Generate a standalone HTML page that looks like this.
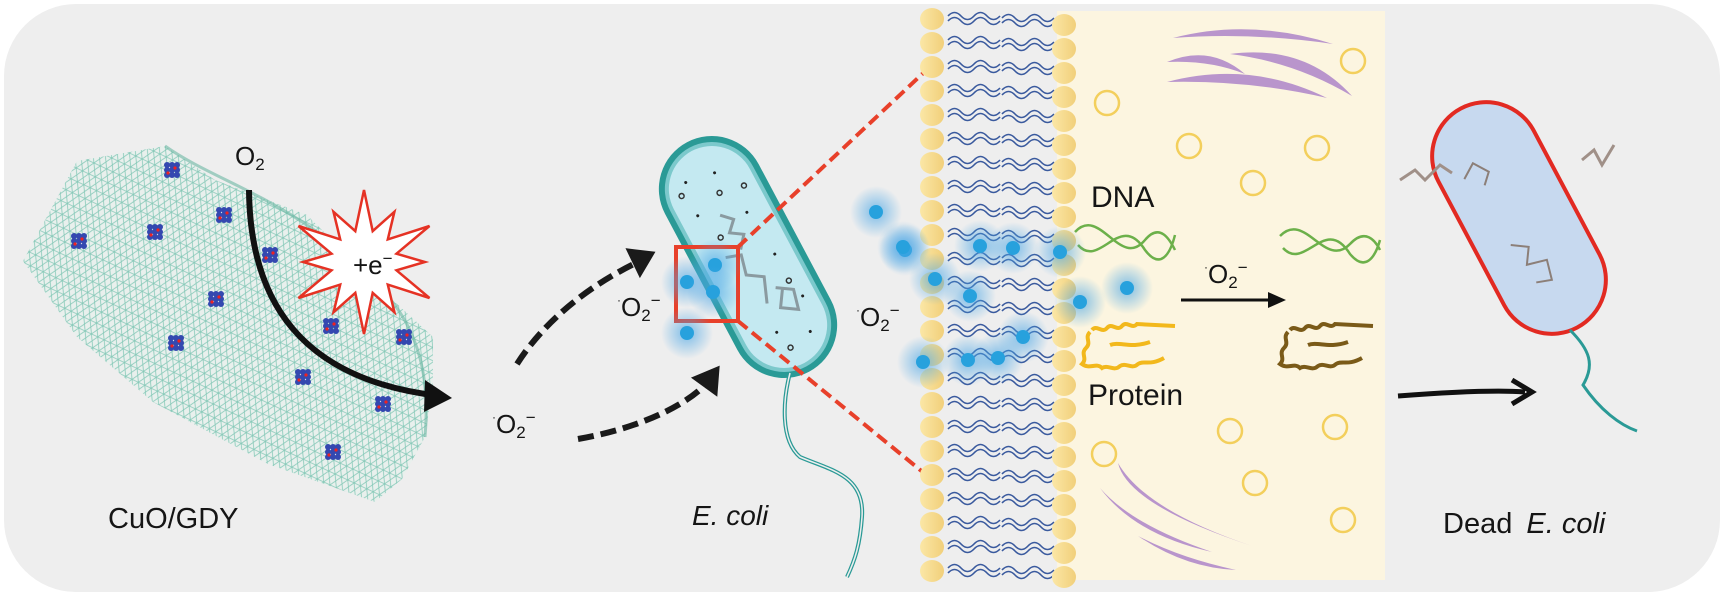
<!DOCTYPE html>
<html><head><meta charset="utf-8"><style>
html,body{margin:0;padding:0;background:#fff;width:1726px;height:598px;overflow:hidden}
svg{display:block}
text{font-family:"Liberation Sans",Arial,sans-serif;fill:#151515}
</style></head><body>
<svg id="s" width="1726" height="598" viewBox="0 0 1726 598" xmlns="http://www.w3.org/2000/svg">
<defs>
<pattern id="mesh" width="14" height="12" patternUnits="userSpaceOnUse" patternTransform="rotate(25)">
<path d="M0 0H14M0 12H14M0 0L7 12L14 0M0 12L7 0L14 12" stroke="#86c9b8" stroke-width="0.8" fill="none"/>
</pattern>
<radialGradient id="glow"><stop offset="0" stop-color="#4aa6e6" stop-opacity="0.7"/><stop offset="1" stop-color="#4aa6e6" stop-opacity="0"/></radialGradient>
<linearGradient id="bead" x1="0" x2="1"><stop offset="0" stop-color="#fbe7a6"/><stop offset="1" stop-color="#f1cf7a"/></linearGradient>
<clipPath id="sheetclip"><path d="M23 261 L77 161 L165 146 L215 180 L307 215 L383 291 L433 337 L433 383 L425 437 L402 479 L375 502 L268 464 L153 402 L77 337 Z"/></clipPath>
</defs>
<rect x="4" y="4" width="1716" height="588" rx="72" fill="#eeeeee"/>
<g clip-path="url(#sheetclip)"><rect x="0" y="100" width="460" height="420" fill="#e9f0ed"/><rect x="0" y="100" width="460" height="420" fill="url(#mesh)"/></g>
<path d="M165 146 C220 185 300 200 383 291 C420 330 430 380 425 437" stroke="#6cb7a3" stroke-width="3" fill="none" opacity="0.6"/>
<g id="clusters"></g>
<polygon id="star" fill="#fff" stroke="#e53224" stroke-width="2.5"/>
<text x="235" y="165" font-size="26">O<tspan font-size="17" dy="5">2</tspan></text>
<path d="M249 190 C250 300 300 380 440 396" stroke="#111" stroke-width="6" fill="none"/>
<path d="M425 380 L452 398 L424 412 Z" fill="#111"/>
<text x="353" y="274" font-size="26">+e<tspan font-size="17" dy="-10">−</tspan></text>
<text x="492" y="433" font-size="26"><tspan font-size="12" dy="-12">·</tspan><tspan dy="12">O</tspan><tspan font-size="17" dy="5">2</tspan><tspan font-size="17" dy="-15">−</tspan></text>
<text x="108" y="528" font-size="29">CuO/GDY</text>
<path d="M517 364 C545 320 590 285 638 262" stroke="#1a1a1a" stroke-width="6" fill="none" stroke-dasharray="16 7"/>
<path d="M628 250 L653 253 L640 275 Z" fill="#1a1a1a" stroke="#1a1a1a" stroke-width="3"/>
<path d="M578 439 C630 430 680 410 705 385" stroke="#1a1a1a" stroke-width="6" fill="none" stroke-dasharray="16 7"/>
<path d="M694 378 L718 368 L716 394 Z" fill="#1a1a1a" stroke="#1a1a1a" stroke-width="3"/>
<g transform="translate(748,257) rotate(-28)">
<rect x="-53" y="-130" width="106" height="260" rx="53" fill="#2a9a96"/>
<rect x="-47" y="-124" width="94" height="248" rx="47" fill="#7cc9cc"/>
<rect x="-43" y="-120" width="86" height="240" rx="43" fill="#c4e9f1"/>
<g fill="none" stroke="#8a9aa0" stroke-width="3"><path d="M-5 -50 l10 10 l-10 10 l12 8 l-10 12"/><path d="M-20 -10 l15 5 l-5 20 l15 10 l-10 25"/><path d="M10 40 l15 10 l-5 20 l-15 -10 l10 -15"/></g>
<g fill="#222"><circle cx="-20" cy="-95" r="1.5"/><circle cx="10" cy="-90" r="1.5"/><circle cx="-25" cy="-60" r="1.5"/><circle cx="20" cy="-40" r="1.5"/><circle cx="25" cy="10" r="1.5"/><circle cx="-10" cy="80" r="1.5"/><circle cx="20" cy="95" r="1.5"/><circle cx="30" cy="60" r="1.5"/></g>
<g fill="none" stroke="#333" stroke-width="1.5"><circle cx="-30" cy="-85" r="2.5"/><circle cx="5" cy="-70" r="2.5"/><circle cx="-15" cy="-30" r="2.5"/><circle cx="30" cy="-65" r="2.5"/><circle cx="-5" cy="100" r="2.5"/><circle cx="25" cy="40" r="2.5"/></g>
</g>
<path d="M790 373 C783 400 780 440 800 457 C830 470 865 475 862 517 C860 545 855 560 847 577" stroke="#2a9a96" stroke-width="4" fill="none"/>
<path d="M790 373 C783 400 780 440 800 457 C830 470 865 475 862 517 C860 545 855 560 847 577" stroke="#eee" stroke-width="1.5" fill="none"/>
<rect x="676" y="247" width="62" height="74" fill="none" stroke="#e8402a" stroke-width="4"/>
<path d="M738 247 L935 62" stroke="#e8402a" stroke-width="4" stroke-dasharray="12 6"/>
<path d="M738 321 L930 478" stroke="#e8402a" stroke-width="4" stroke-dasharray="12 6"/>
<text x="617" y="316" font-size="26"><tspan font-size="12" dy="-12">·</tspan><tspan dy="12">O</tspan><tspan font-size="17" dy="5">2</tspan><tspan font-size="17" dy="-15">−</tspan></text>
<text x="856" y="326" font-size="26"><tspan font-size="12" dy="-12">·</tspan><tspan dy="12">O</tspan><tspan font-size="17" dy="5">2</tspan><tspan font-size="17" dy="-15">−</tspan></text>
<text x="692" y="525" font-size="28" font-style="italic">E. coli</text>
<rect x="1057" y="11" width="328" height="569" fill="#fcf5e0"/>
<g id="mem"></g>
<g fill="#b995cc">
<path d="M1173 38 Q1250 18 1333 44 Q1250 32 1173 38Z"/>
<path d="M1167 62 Q1210 44 1245 74 Q1210 60 1167 62Z"/>
<path d="M1230 54 Q1305 44 1352 96 Q1295 62 1230 54Z"/>
<path d="M1167 82 Q1250 60 1327 98 Q1250 80 1167 82Z"/>
<path d="M1118 463 Q1128 505 1252 546 Q1145 510 1118 463Z"/>
<path d="M1100 488 Q1135 535 1212 552 Q1132 525 1100 488Z"/>
<path d="M1138 536 Q1185 568 1236 570 Q1180 558 1138 536Z"/>
</g>
<g fill="none" stroke="#f3cf5c" stroke-width="2.5">
<circle cx="1353" cy="61" r="12"/><circle cx="1107" cy="103" r="12"/><circle cx="1189" cy="146" r="12"/><circle cx="1317" cy="148" r="12"/><circle cx="1253" cy="183" r="12"/><circle cx="1230" cy="431" r="12"/><circle cx="1335" cy="427" r="12"/><circle cx="1104" cy="454" r="12"/><circle cx="1255" cy="483" r="12"/><circle cx="1343" cy="520" r="12"/>
</g>
<text x="1091" y="207" font-size="30">DNA</text>
<g fill="none" stroke="#6cb04a" stroke-width="2.5">
<path d="M1075 232 C1100 205 1120 270 1145 240 C1160 222 1170 240 1175 250"/><path d="M1078 245 C1100 270 1120 210 1145 250 C1160 270 1170 255 1175 235"/>
<path d="M1280 236 C1305 210 1325 270 1350 244 C1365 228 1375 240 1380 250"/><path d="M1283 248 C1305 272 1325 214 1350 254 C1365 272 1375 258 1380 240"/>
</g>
<path d="M1181 300 H1270" stroke="#111" stroke-width="3"/><path d="M1268 292 L1286 300 L1268 308Z" fill="#111"/>
<text x="1204" y="283" font-size="26"><tspan font-size="12" dy="-12">·</tspan><tspan dy="12">O</tspan><tspan font-size="17" dy="5">2</tspan><tspan font-size="17" dy="-15">−</tspan></text>
<path d="M1092 330 c5 -6 10 4 15 -2 c5 -6 10 4 15 -2 c5 -6 10 4 15 -2 L1175 326 M1090 332 c-6 6 2 10 -4 16 c-6 6 2 10 -4 16 c8 6 14 -2 20 4 c6 -4 12 4 18 -2 c6 -4 12 4 18 -2 c6 -4 12 2 26 -6 M1110 345 c10 -4 20 4 40 -3" stroke="#f2b81c" stroke-width="4" fill="none"/>
<path d="M1290 330 c5 -6 10 4 15 -2 c5 -6 10 4 15 -2 c5 -6 10 4 15 -2 L1373 326 M1288 332 c-6 6 2 10 -4 16 c-6 6 2 10 -4 16 c8 6 14 -2 20 4 c6 -4 12 4 18 -2 c6 -4 12 4 18 -2 c6 -4 12 2 26 -6 M1308 345 c10 -4 20 4 40 -3" stroke="#7a5a18" stroke-width="4" fill="none"/>
<text x="1088" y="405" font-size="30">Protein</text>
<g id="dots"></g>
<path d="M1398 396 C1450 392 1500 390 1525 392" stroke="#111" stroke-width="5" fill="none"/>
<path d="M1512 380 L1532 392 L1512 404" stroke="#111" stroke-width="5" fill="none"/>
<g transform="translate(1519,218) rotate(-28)">
<rect x="-54" y="-124" width="108" height="248" rx="54" fill="#c7d9ef" stroke="#e22a22" stroke-width="4"/>
<g fill="none" stroke="#8c7f78" stroke-width="2"><path d="M-20 20 l15 10 l-10 15 l20 5 l-5 20 l-15 -5"/><path d="M-30 -60 l15 -10 l10 15 l-10 10"/></g>
</g>
<path d="M1400 180 l15 -10 l10 10 l15 -15 l12 8" stroke="#a09088" stroke-width="3" fill="none"/>
<path d="M1582 160 l12 -10 l8 15 l12 -20" stroke="#a09088" stroke-width="3" fill="none"/>
<path d="M1570 330 C1590 350 1595 365 1583 385 C1600 410 1620 425 1637 431" stroke="#2a9a96" stroke-width="3" fill="none"/>
<text x="1443" y="533" font-size="29">Dead <tspan font-style="italic" dx="6">E. coli</tspan></text>
</svg>
<script>
var NS="http://www.w3.org/2000/svg";
function el(p,t,a){var e=document.createElementNS(NS,t);for(var k in a)e.setAttribute(k,a[k]);p.appendChild(e);return e;}
var cl=document.getElementById('clusters');
[[172,170],[224,215],[79,241],[155,232],[270,255],[347,266],[216,299],[331,326],[404,337],[176,343],[303,377],[383,404],[333,452]].forEach(function(c){
 for(var i=-1;i<=1;i++)for(var j=-1;j<=1;j++){el(cl,'circle',{cx:c[0]+i*5,cy:c[1]+j*5,r:3,fill:'#3448b0'});}
 el(cl,'circle',{cx:c[0]+3,cy:c[1]-2,r:1.6,fill:'#e22'});el(cl,'circle',{cx:c[0]-4,cy:c[1]+3,r:1.6,fill:'#e22'});
});
var pts=[],cx=364,cy=262;for(var k=0;k<24;k++){var a=k*Math.PI/12-Math.PI/2;var r=(k%2==0)?(k%4==0?72:58):32;pts.push((cx+r*Math.cos(a)*1.05).toFixed(1)+','+(cy+r*Math.sin(a)).toFixed(1));}
document.getElementById('star').setAttribute('points',pts.join(' '));
var m=document.getElementById('mem');
for(var i=0;i<24;i++){var y=19+24*i;
 [[948,y],[1002,y+2]].forEach(function(p){
  var x=p[0],yy=p[1];
  for(var d=0;d<2;d++){var o=yy-3+d*5;el(m,'path',{d:'M'+x+' '+o+' q6.5 -7 13 0 t13 0 t13 0 t13 0',stroke:'#3a5a9e','stroke-width':1.6,fill:'none'});}
 });
}
for(var i=0;i<24;i++){el(m,'ellipse',{cx:932,cy:19+24*i,rx:12,ry:11,fill:'url(#bead)'});el(m,'ellipse',{cx:1064,cy:25+24*i,rx:12,ry:11,fill:'url(#bead)'});}
var dg=document.getElementById('dots');
[[905,250],[980,246],[1013,248],[1060,252],[935,279],[970,296],[1080,302],[1127,288],[1023,337],[923,362],[968,360],[998,358],[876,212],[903,247],[715,265],[687,282],[713,292],[687,333]].forEach(function(d){
 el(dg,'circle',{cx:d[0],cy:d[1],r:26,fill:'url(#glow)'});el(dg,'circle',{cx:d[0],cy:d[1],r:7,fill:'#27a1dd'});
});
</script>
</body></html>
